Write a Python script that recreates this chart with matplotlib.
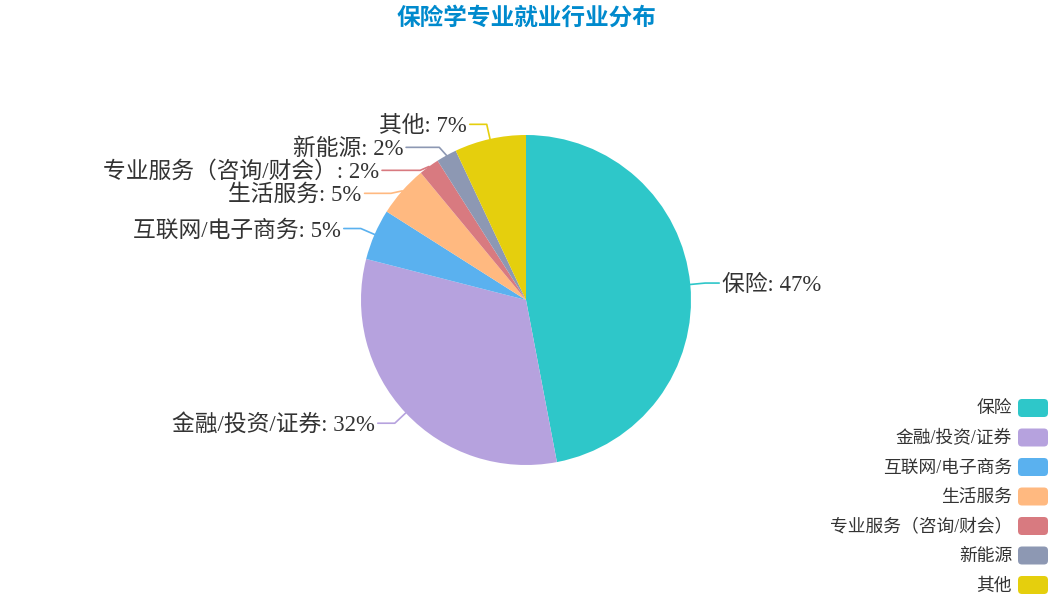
import numpy as np
import matplotlib
matplotlib.use('Agg')
import matplotlib.pyplot as plt
from matplotlib.patches import FancyBboxPatch

plt.rcParams['font.family'] = ['Liberation Serif', 'Noto Sans CJK SC', 'DejaVu Sans']

# Data
categories = ['保险', '金融/投资/证券', '互联网/电子商务', '生活服务',
              '专业服务（咨询/财会）', '新能源', '其他']
shares = [47, 32, 5, 5, 2, 2, 7]
colors = ['#2ec7c9', '#b6a2de', '#5ab1ef', '#ffb980', '#d87a80', '#8d98b3', '#e5cf0d']
title = '保险学专业就业行业分布'

# Layout (pixel coords, y up)
W, H = 1053, 600
cx, cy, r = 526, 300, 165
line_len = 15
gap_min = 23
text_radius = 196

fig = plt.figure(figsize=(W / 100, H / 100), dpi=100)
ax = fig.add_axes([0, 0, 1, 1])

ax.pie(shares, colors=colors, startangle=90, counterclock=False,
       center=(cx, cy), radius=r, wedgeprops=dict(linewidth=0))
ax.set_xlim(0, W)
ax.set_ylim(0, H)
ax.set_aspect('equal')
ax.axis('off')

# label geometry
total = sum(shares)
cum = np.cumsum(shares)
mid = (cum - np.array(shares) / 2) / total
theta = np.deg2rad(90 - mid * 360)
dx, dy = np.cos(theta), np.sin(theta)
edge_x, edge_y = cx + r * dx, cy + r * dy
elb_x, elb_y = cx + (r + line_len) * dx, cy + (r + line_len) * dy
lab_y = elb_y.copy()

# push labels apart on each side (top to bottom)
for side in (dx < 0, dx >= 0):
    idx = [i for i in np.argsort(-elb_y) if side[i]]
    prev = None
    for i in idx:
        if prev is not None and lab_y[i] > prev - gap_min:
            lab_y[i] = prev - gap_min
        prev = lab_y[i]

for i, name in enumerate(categories):
    sgn = -1 if dx[i] < 0 else 1
    shifted = abs(lab_y[i] - elb_y[i]) > 1
    if shifted:
        tx = cx + sgn * np.sqrt(max(text_radius ** 2 - (lab_y[i] - cy) ** 2, 0))
    else:
        tx = elb_x[i] + sgn * (20 if sgn < 0 else 17)
    ax.plot([edge_x[i], elb_x[i], tx - sgn * 3],
            [edge_y[i], lab_y[i], lab_y[i]], color=colors[i], lw=1.2,
            solid_capstyle='round', zorder=1)
    ax.text(tx, lab_y[i] - 2, f'{name}: {shares[i]}%', fontsize=16.4, color='#333333',
            ha='right' if sgn < 0 else 'left', va='center')

# title
ax.text(cx, H - 18, title, fontsize=17, fontweight='bold', color='#008acd',
        ha='center', va='center', family=['Noto Sans CJK SC', 'DejaVu Sans'])

# legend
for i, name in enumerate(categories):
    y = H - (408 + 29.5 * i)
    ax.add_patch(FancyBboxPatch((1022, y - 5), 22, 10,
                                boxstyle='round,pad=4', fc=colors[i], ec='none'))
    ax.text(1012, y - 1, name, fontsize=12.8, color='#333333', ha='right', va='center')

fig.savefig('out.png', dpi=100, facecolor='white')
